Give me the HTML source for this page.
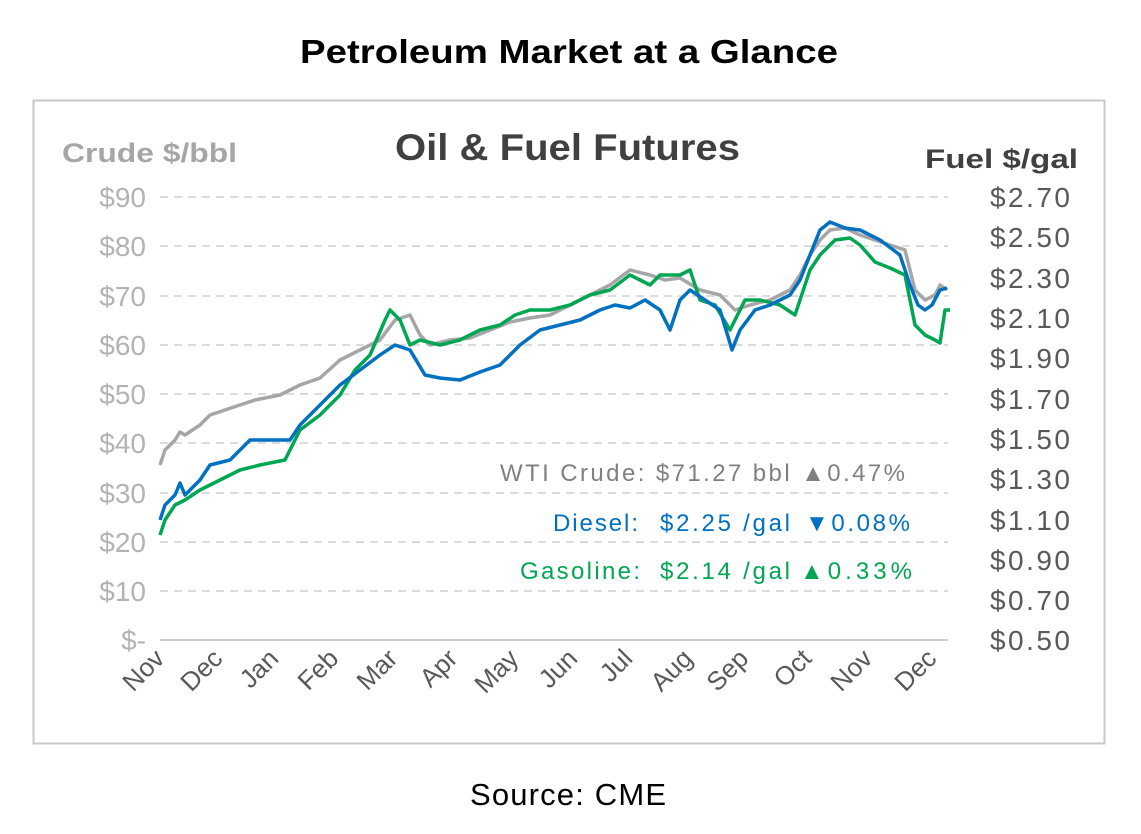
<!DOCTYPE html>
<html><head><meta charset="utf-8"><style>
body{margin:0;background:#fff;}
svg text{font-family:"Liberation Sans",sans-serif;}
</style></head><body>
<svg width="1141" height="829" viewBox="0 0 1141 829" xmlns="http://www.w3.org/2000/svg">
<rect width="1141" height="829" fill="#fff"/>
<text x="300" y="63" font-size="33" font-weight="bold" fill="#000" textLength="538" lengthAdjust="spacingAndGlyphs">Petroleum Market at a Glance</text>
<rect x="33.5" y="100.5" width="1071" height="643" fill="none" stroke="#c8c8c8" stroke-width="2"/>
<text x="62" y="162" font-size="27" font-weight="bold" fill="#a6a6a6" textLength="175" lengthAdjust="spacingAndGlyphs">Crude $/bbl</text>
<text x="395" y="160" font-size="37" font-weight="bold" fill="#404040" textLength="345" lengthAdjust="spacingAndGlyphs">Oil &amp; Fuel Futures</text>
<text x="925" y="168" font-size="27" font-weight="bold" fill="#404040" textLength="153" lengthAdjust="spacingAndGlyphs">Fuel $/gal</text>
<g stroke="#d0d0d0" stroke-width="1.5" stroke-dasharray="8,6">
<line x1="160" x2="948" y1="197" y2="197"/><line x1="160" x2="948" y1="246" y2="246"/><line x1="160" x2="948" y1="296" y2="296"/><line x1="160" x2="948" y1="345" y2="345"/><line x1="160" x2="948" y1="394" y2="394"/><line x1="160" x2="948" y1="443" y2="443"/><line x1="160" x2="948" y1="493" y2="493"/><line x1="160" x2="948" y1="542" y2="542"/><line x1="160" x2="948" y1="591" y2="591"/>
</g>
<line x1="160" x2="948" y1="640" y2="640" stroke="#bfbfbf" stroke-width="1.5"/>
<g font-size="28" fill="#b3b3b3" text-anchor="end">
<text x="146" y="207">$90</text><text x="146" y="256">$80</text><text x="146" y="306">$70</text><text x="146" y="355">$60</text><text x="146" y="404">$50</text><text x="146" y="453">$40</text><text x="146" y="503">$30</text><text x="146" y="552">$20</text><text x="146" y="601">$10</text><text x="146" y="650">$-</text>
</g>
<g font-size="28" fill="#595959">
<text x="990" y="207" textLength="80">$2.70</text><text x="990" y="247" textLength="80">$2.50</text><text x="990" y="288" textLength="80">$2.30</text><text x="990" y="328" textLength="80">$2.10</text><text x="990" y="368" textLength="80">$1.90</text><text x="990" y="409" textLength="80">$1.70</text><text x="990" y="449" textLength="80">$1.50</text><text x="990" y="489" textLength="80">$1.30</text><text x="990" y="530" textLength="80">$1.10</text><text x="990" y="570" textLength="80">$0.90</text><text x="990" y="610" textLength="80">$0.70</text><text x="990" y="650" textLength="80">$0.50</text>
</g>
<g font-size="26" fill="#595959" text-anchor="end">
<text transform="translate(166,660) rotate(-45)">Nov</text>
<text transform="translate(224,660) rotate(-45)">Dec</text>
<text transform="translate(280,660) rotate(-45)">Jan</text>
<text transform="translate(340,660) rotate(-45)">Feb</text>
<text transform="translate(399,660) rotate(-45)">Mar</text>
<text transform="translate(459,660) rotate(-45)">Apr</text>
<text transform="translate(520,660) rotate(-45)">May</text>
<text transform="translate(579,660) rotate(-45)">Jun</text>
<text transform="translate(634,660) rotate(-45)">Jul</text>
<text transform="translate(694,660) rotate(-45)">Aug</text>
<text transform="translate(750,660) rotate(-45)">Sep</text>
<text transform="translate(813,660) rotate(-45)">Oct</text>
<text transform="translate(874,660) rotate(-45)">Nov</text>
<text transform="translate(938,660) rotate(-45)">Dec</text>
</g>
<g fill="none" stroke-width="3.5" stroke-linejoin="round">
<polyline stroke="#a6a6a6" points="160,465 165,450 175,440 180,432 185,435 200,425 210,415 225,410 240,405 255,400 280,395 300,385 320,378 340,360 360,350 380,340 395,320 410,315 420,335 430,345 450,340 470,338 490,330 510,322 530,318 550,315 570,305 590,295 610,285 630,270 650,275 665,280 680,278 700,290 720,295 735,310 750,305 770,300 790,290 800,275 810,255 820,240 830,230 845,228 860,235 875,240 890,245 905,250 915,290 925,300 935,295 940,285 947,290"/>
<polyline stroke="#00a651" points="160,535 165,520 175,505 185,500 200,490 220,480 240,470 260,465 285,460 300,430 320,415 340,395 355,370 370,355 385,320 390,310 400,320 410,345 420,340 440,345 460,340 480,330 500,325 515,315 530,310 550,310 570,305 590,295 610,290 630,275 650,285 660,275 680,275 690,270 700,300 715,305 730,330 745,300 760,300 780,305 795,315 810,270 820,255 835,240 850,238 860,245 875,262 890,268 905,275 915,325 925,335 935,340 940,343 945,310 950,310"/>
<polyline stroke="#0070c0" points="160,520 165,505 175,495 180,483 185,495 200,480 210,465 230,460 250,440 270,440 290,440 300,425 320,405 340,385 360,370 380,355 395,345 410,350 425,375 440,378 460,380 480,372 500,365 520,345 540,330 560,325 580,320 600,310 615,305 630,308 645,300 660,310 670,330 680,300 690,290 705,300 720,310 732,350 740,330 755,310 770,305 790,295 800,280 810,255 820,230 830,222 845,228 860,230 880,240 900,255 910,285 918,305 925,310 932,305 940,290 947,288"/>
</g>
<g font-size="24">
<text x="500" y="481" fill="#808080" textLength="405">WTI Crude: $71.27 bbl  ▲0.47%</text>
<text x="553" y="531" fill="#0070c0" textLength="85">Diesel:</text>
<text x="660" y="531" fill="#0070c0" textLength="130">$2.25 /gal</text>
<text x="805" y="531" fill="#0070c0" textLength="105">▼0.08%</text>
<text x="520" y="579" fill="#00a651" textLength="120">Gasoline:</text>
<text x="660" y="579" fill="#00a651" textLength="130">$2.14 /gal</text>
<text x="800" y="579" fill="#00a651" textLength="112">▲0.33%</text>
</g>
<text x="470" y="805" font-size="31" fill="#000" textLength="196">Source: CME</text>
</svg>
</body></html>
